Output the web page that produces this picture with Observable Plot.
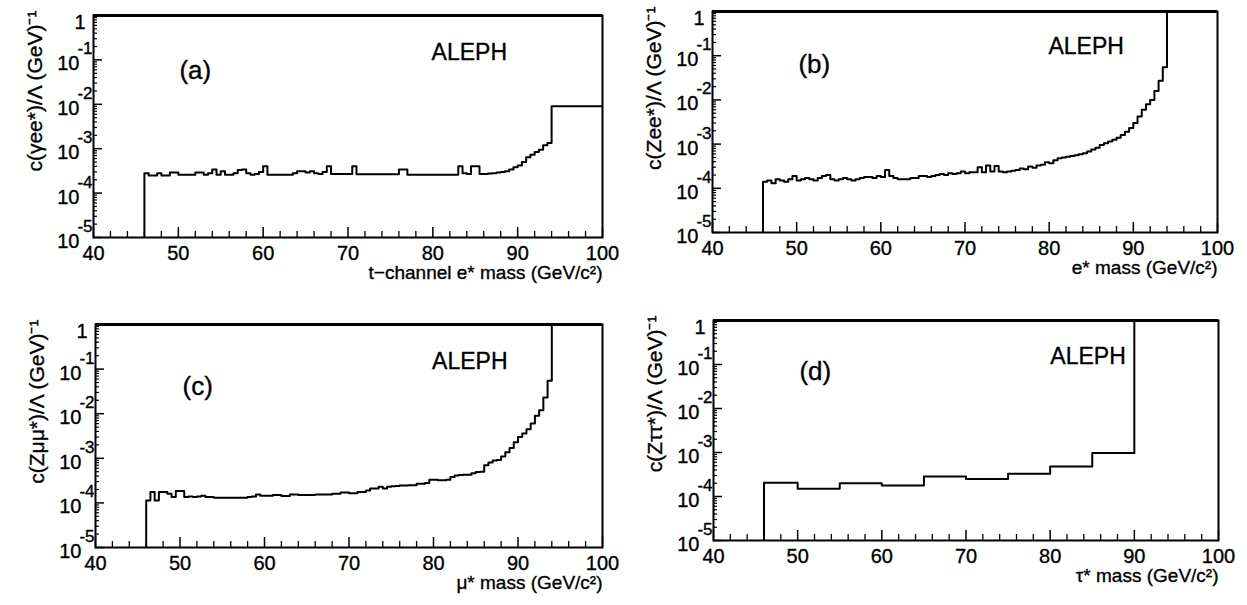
<!DOCTYPE html>
<html><head><meta charset="utf-8">
<script src="https://cdn.jsdelivr.net/npm/d3@7"></script>
<script src="https://cdn.jsdelivr.net/npm/@observablehq/plot@0.6"></script>
<style>
html,body{margin:0;padding:0;background:#fff;}
#root{position:relative;width:1247px;height:605px;overflow:hidden;background:#fff;}
#root svg{position:absolute;}
</style></head><body><div id="root"></div>
<script>
// ---------- data ----------
const xDomain = [40, 100];
const yDomain = [1e-5, 1];
const xMajorTicks = [40, 50, 60, 70, 80, 90, 100];
const decadeTicks = [1e-5, 1e-4, 1e-3, 1e-2, 1e-1, 1];
const decadeLabels = ["-5", "-4", "-3", "-2", "-1"];

// fine binning for panels a, b, c : 0.5 GeV bins from 46 to 94, then one bin 94-100
const fineStart = 46, fineWidth = 0.5, fineCount = 96, lastEdge = 100;

const valuesA = [
  2.8e-4,2.5e-4,2.5e-4,2.8e-4,2.5e-4,2.5e-4,2.9e-4,2.9e-4,2.6e-4,2.6e-4,
  2.6e-4,2.6e-4,2.9e-4,2.9e-4,2.6e-4,2.8e-4,3.4e-4,2.6e-4,3.1e-4,2.6e-4,
  2.6e-4,2.8e-4,3.3e-4,3.4e-4,2.8e-4,2.6e-4,2.7e-4,3.0e-4,4.0e-4,2.6e-4,
  2.6e-4,2.6e-4,2.6e-4,2.6e-4,2.6e-4,2.8e-4,3.1e-4,3.1e-4,2.9e-4,3.1e-4,
  2.8e-4,2.7e-4,3.0e-4,4.0e-4,2.7e-4,2.7e-4,2.7e-4,2.7e-4,2.7e-4,4.0e-4,
  2.65e-4,2.65e-4,2.65e-4,2.65e-4,2.65e-4,2.65e-4,2.65e-4,2.65e-4,2.65e-4,2.65e-4,
  3.4e-4,3.4e-4,2.6e-4,2.6e-4,2.6e-4,2.6e-4,2.6e-4,2.6e-4,2.6e-4,2.6e-4,
  2.6e-4,2.6e-4,2.6e-4,2.6e-4,4.0e-4,2.8e-4,2.7e-4,4.0e-4,4.0e-4,2.7e-4,
  2.7e-4,2.75e-4,2.8e-4,2.9e-4,3.0e-4,3.1e-4,3.4e-4,3.8e-4,4.2e-4,5.0e-4,
  6.4e-4,7.3e-4,8.4e-4,9.5e-4,1.2e-3,1.35e-3,
  9e-3
];
const valuesB = [
  1.4e-4,1.5e-4,1.3e-4,1.6e-4,1.5e-4,1.4e-4,1.6e-4,1.9e-4,1.5e-4,1.6e-4,
  1.7e-4,1.6e-4,1.5e-4,1.7e-4,1.9e-4,2.0e-4,1.6e-4,1.5e-4,1.6e-4,1.7e-4,
  1.6e-4,1.5e-4,1.6e-4,1.7e-4,1.8e-4,1.8e-4,1.7e-4,1.9e-4,1.8e-4,2.6e-4,
  1.9e-4,1.7e-4,1.6e-4,1.6e-4,1.6e-4,1.7e-4,1.7e-4,1.9e-4,1.9e-4,1.8e-4,
  1.9e-4,2.0e-4,2.1e-4,2.0e-4,2.2e-4,2.1e-4,2.2e-4,2.4e-4,2.2e-4,2.3e-4,
  2.3e-4,3.0e-4,2.3e-4,3.3e-4,2.4e-4,3.2e-4,2.4e-4,2.3e-4,2.4e-4,2.5e-4,
  2.6e-4,2.8e-4,2.7e-4,3.1e-4,2.9e-4,3.3e-4,3.4e-4,3.9e-4,3.7e-4,4.3e-4,
  4.8e-4,5.0e-4,5.2e-4,5.4e-4,5.6e-4,5.9e-4,6.2e-4,6.8e-4,7.5e-4,8.3e-4,
  9.5e-4,1.05e-3,1.15e-3,1.25e-3,1.4e-3,1.6e-3,1.9e-3,2.3e-3,3.0e-3,4.2e-3,
  6.0e-3,8.0e-3,1.0e-2,1.6e-2,2.7e-2,5.5e-2,
  1
];
const valuesC = [
  1.13e-4,1.75e-4,1.13e-4,1.75e-4,1.75e-4,1.6e-4,1.35e-4,1.85e-4,1.85e-4,1.35e-4,
  1.4e-4,1.35e-4,1.4e-4,1.45e-4,1.35e-4,1.35e-4,1.3e-4,1.3e-4,1.3e-4,1.3e-4,
  1.3e-4,1.3e-4,1.3e-4,1.3e-4,1.35e-4,1.4e-4,1.55e-4,1.45e-4,1.45e-4,1.45e-4,
  1.5e-4,1.5e-4,1.42e-4,1.42e-4,1.55e-4,1.55e-4,1.5e-4,1.5e-4,1.5e-4,1.5e-4,
  1.55e-4,1.55e-4,1.55e-4,1.55e-4,1.6e-4,1.6e-4,1.7e-4,1.7e-4,1.65e-4,1.65e-4,
  1.75e-4,1.75e-4,1.9e-4,2.1e-4,2.1e-4,2.3e-4,2.1e-4,2.3e-4,2.35e-4,2.4e-4,
  2.45e-4,2.45e-4,2.5e-4,2.5e-4,2.7e-4,2.7e-4,2.8e-4,3.3e-4,3.3e-4,3.2e-4,
  3.2e-4,3.3e-4,3.8e-4,4.1e-4,4.2e-4,4.3e-4,4.3e-4,4.6e-4,4.9e-4,5.0e-4,
  7.0e-4,8.0e-4,8.9e-4,9.2e-4,1.1e-3,1.36e-3,1.7e-3,2.3e-3,3.0e-3,3.6e-3,
  4.5e-3,6.0e-3,9.0e-3,1.2e-2,2.3e-2,5.5e-2,
  1
];
// panel d : coarse bins
const edgesD = [46, 50, 55, 60, 65, 70, 75, 80, 85, 90, 100];
const valuesD = [2.05e-4, 1.5e-4, 2.0e-4, 1.78e-4, 2.85e-4, 2.5e-4, 3.3e-4, 4.8e-4, 9.8e-4, 1];

const fineEdges = d3.range(fineCount).map(i => fineStart + fineWidth * i).concat([fineStart + fineWidth * fineCount, lastEdge]);

// ---------- layout ----------
const FONT = "'Liberation Sans', Arial, Helvetica, sans-serif";
const panels = [
  {edges: fineEdges, values: valuesA, tag: "(a)", xLabel: "t\u2212channel e* mass (GeV/c\u00b2)", yLabel: "c(\u03b3ee*)/\u039b (GeV)\u207b\u00b9",
   box: {left: 0, top: 0, width: 623, height: 300, ml: 93, mr: 21, mt: 15, mb: 63}, tagAt: [52.0, 0.058], alephAt: [84.3, 0.147]},
  {edges: fineEdges, values: valuesB, tag: "(b)", xLabel: "e* mass (GeV/c\u00b2)", yLabel: "c(Zee*)/\u039b (GeV)\u207b\u00b9",
   box: {left: 620, top: 0, width: 627, height: 300, ml: 92, mr: 30, mt: 11, mb: 68}, tagAt: [52.1, 0.063], alephAt: [84.4, 0.16]},
  {edges: fineEdges, values: valuesC, tag: "(c)", xLabel: "\u03bc* mass (GeV/c\u00b2)", yLabel: "c(Z\u03bc\u03bc*)/\u039b (GeV)\u207b\u00b9",
   box: {left: 0, top: 300, width: 623, height: 305, ml: 95, mr: 21, mt: 24, mb: 58}, tagAt: [52.1, 0.040], alephAt: [84.3, 0.145]},
  {edges: edgesD, values: valuesD, tag: "(d)", xLabel: "\u03c4* mass (GeV/c\u00b2)", yLabel: "c(Z\u03c4\u03c4*)/\u039b (GeV)\u207b\u00b9",
   box: {left: 620, top: 300, width: 627, height: 305, ml: 93, mr: 29, mt: 20, mb: 65}, tagAt: [52.1, 0.069], alephAt: [84.5, 0.15]}
];

const xMinor = d3.range(40, 101, 2).filter(d => d % 10 !== 0);
const yMinor = [];
for (let k = -5; k < 0; k++) for (let m = 2; m <= 9; m++) yMinor.push(m * Math.pow(10, k));

const ink = {fill: "black", stroke: "black", strokeWidth: 0.35};

function panel(p) {
  const b = p.box;
  const frameW = b.width - b.ml - b.mr, frameH = b.height - b.mt - b.mb;
  const pts = [{x: p.edges[0], y: yDomain[0]}]
    .concat(p.values.map((v, i) => ({x: p.edges[i], y: v})))
    .concat([{x: p.edges[p.edges.length - 1], y: p.values[p.values.length - 1]}]);
  const labelDecades = decadeTicks.slice(0, 5);
  const svg = Plot.plot({
    width: b.width, height: b.height,
    marginLeft: b.ml, marginRight: b.mr, marginTop: b.mt, marginBottom: b.mb,
    x: {domain: xDomain, axis: null},
    y: {type: "log", domain: yDomain, axis: null},
    style: {fontFamily: FONT, color: "black", background: "transparent", overflow: "visible"},
    marks: [
      Plot.tickX(xMinor, {x: d => d, insetTop: frameH - 6, stroke: "black", strokeWidth: 1.3}),
      Plot.tickX(xMajorTicks, {x: d => d, insetTop: frameH - 10, stroke: "black", strokeWidth: 1.5}),
      Plot.tickY(yMinor, {y: d => d, insetRight: frameW - 4, stroke: "black", strokeWidth: 1.2}),
      Plot.tickY(decadeTicks, {y: d => d, insetRight: frameW - 9, stroke: "black", strokeWidth: 1.5}),
      Plot.line(pts, {x: "x", y: "y", curve: "step-after", stroke: "black", strokeWidth: 2, clip: true}),
      Plot.frame({stroke: "black", strokeWidth: 2}),
      Plot.ruleY([yDomain[1]], {stroke: "black", strokeWidth: 3}),
      Plot.text(xMajorTicks, {x: d => d, text: d => String(d), frameAnchor: "bottom", dy: 22, fontSize: 20, ...ink}),
      Plot.text(labelDecades, {y: d => d, text: () => "10", frameAnchor: "left", textAnchor: "end", dx: -14, dy: 4, fontSize: 20, ...ink}),
      Plot.text(labelDecades, {y: d => d, text: (d, i) => decadeLabels[i], frameAnchor: "left", textAnchor: "end", dx: -1, dy: -11, fontSize: 17, ...ink}),
      Plot.text([1], {y: d => d, text: () => "1", frameAnchor: "left", textAnchor: "end", dx: -8, dy: 7, fontSize: 20, ...ink}),
      Plot.text([p.xLabel], {text: d => d, frameAnchor: "bottom-right", textAnchor: "end", dy: 41, fontSize: 19, ...ink}),
      Plot.text([p.yLabel], {text: d => d, frameAnchor: "top-left", textAnchor: "end", rotate: -90, dx: -66, dy: -5, fontSize: 21, ...ink}),
      Plot.text([p.tag], {x: () => p.tagAt[0], y: () => p.tagAt[1], text: d => d, fontSize: 26, ...ink}),
      Plot.text(["ALEPH"], {x: () => p.alephAt[0], y: () => p.alephAt[1], text: d => d, fontSize: 23, ...ink})
    ]
  });
  svg.style.left = b.left + "px";
  svg.style.top = b.top + "px";
  return svg;
}

const root = document.getElementById("root");
panels.forEach(p => root.appendChild(panel(p)));
</script></body></html>
